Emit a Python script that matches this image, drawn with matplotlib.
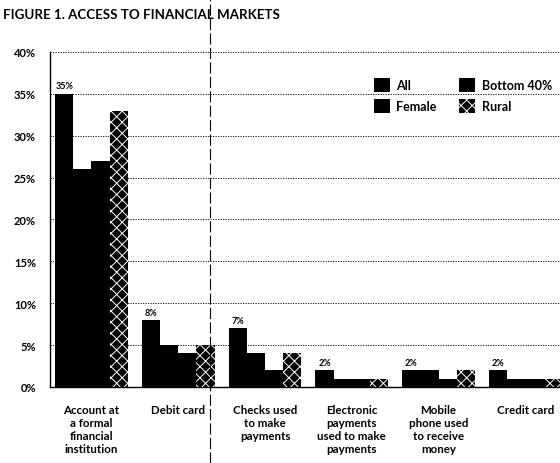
import numpy as np
import matplotlib.pyplot as plt
from matplotlib.lines import Line2D

# данные (в процентах)
categories = ["Account at\na formal\nfinancial\ninstitution", "Debit card",
              "Checks used\nto make\npayments", "Electronic\npayments\nused to make\npayments",
              "Mobile\nphone used\nto receive\nmoney", "Credit card"]
series_names = ["All", "Female", "Bottom 40%", "Rural"]
all_vals = [35, 8, 7, 2, 2, 2]
female_vals = [26, 5, 4, 1, 2, 1]
bottom40_vals = [27, 4, 2, 1, 1, 1]
rural_vals = [33, 5, 4, 1, 2, 1]
value_labels = ["35%", "8%", "7%", "2%", "2%", "2%"]
yticks = [0, 5, 10, 15, 20, 25, 30, 35, 40]

plt.rcParams['font.family'] = ['Lato', 'DejaVu Sans']
plt.rcParams['hatch.linewidth'] = 0.7

fig = plt.figure(figsize=(5.6, 4.64), dpi=100)
ax = fig.add_axes([0.089, 0.164, 0.911, 0.722])

x = np.arange(len(categories))
w = 0.21
series = [all_vals, female_vals, bottom40_vals, rural_vals]
for i, (name, vals) in enumerate(zip(series_names, series)):
    pos = x + (i - 1.5) * w
    if name == "Rural":
        ax.bar(pos, vals, w, facecolor='black', edgecolor='white', hatch='xxx',
               linewidth=0, label=name, zorder=3)
    else:
        ax.bar(pos, vals, w, color='black', linewidth=0, label=name, zorder=3)

# подписи над столбцами "All"
for xi, v, lab in zip(x, all_vals, value_labels):
    ax.text(xi - 1.5 * w, v + 0.4, lab, ha='center', va='bottom', fontsize=6.5, fontweight='bold')

ax.set_xlim(-0.48, 5.4)
ax.set_ylim(0, 40)
ax.set_yticks(yticks)
ax.set_yticklabels([f"{t}%" for t in yticks], fontsize=8, fontweight='bold')
ax.set_xticks(x)
ax.set_xticklabels(categories, fontsize=8.3, fontweight='bold', linespacing=1.25)
ax.tick_params(axis='both', length=0)
ax.tick_params(axis='x', pad=12)
ax.tick_params(axis='y', pad=10)

ax.grid(axis='y', color='black', linestyle=(0, (1.5, 1.5)), linewidth=0.6, zorder=0)
for s in ['top', 'right']:
    ax.spines[s].set_visible(False)
ax.spines['left'].set_linewidth(1.0)
ax.spines['bottom'].set_linewidth(1.0)

ax.legend(ncol=2, loc='upper left', bbox_to_anchor=(0.613, 0.955), frameon=False,
          handlelength=1.3, handleheight=1.3, columnspacing=1.8,
          labelspacing=0.6, handletextpad=0.5, prop={'weight': 'bold', 'size': 9})

fig.text(0.005, 0.968, "FIGURE 1. ACCESS TO FINANCIAL MARKETS", fontsize=9.6,
         fontweight='bold', va='center', ha='left')

# линия сгиба на скане
fig.add_artist(Line2D([0.375, 0.375], [0.0, 1.0], transform=fig.transFigure,
                      color='black', linewidth=0.8, linestyle=(0, (10, 3))))

fig.savefig("out.png", dpi=100)
